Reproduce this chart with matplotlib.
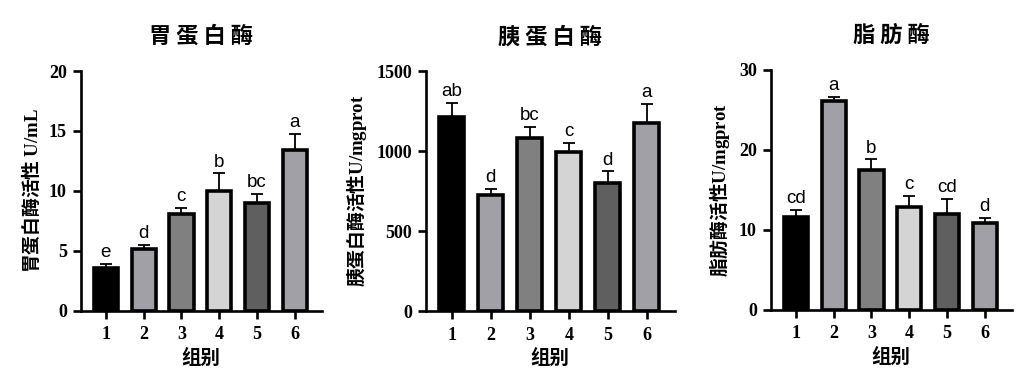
import matplotlib
matplotlib.use("Agg")
import matplotlib.pyplot as plt
import numpy as np

plt.rcParams["mathtext.fontset"] = "custom"
plt.rcParams["mathtext.bf"] = "Liberation Serif:bold"
plt.rcParams["mathtext.rm"] = "Liberation Serif"

groups = ["1", "2", "3", "4", "5", "6"]
bar_colors = ["#000000", "#a0a0a6", "#808080", "#d4d4d4", "#5f5f5f", "#a0a0a6"]

titles = ["胃 蛋 白 酶", "胰 蛋 白 酶", "脂 肪 酶"]
ylabels = [r"胃蛋白酶活性 $\mathbf{U/mL}$", r"胰蛋白酶活性$\mathbf{U/mgprot}$", r"脂肪酶活性$\mathbf{U/mgprot}$"]
xlabel = "组别"

pepsin_mean = [3.55, 5.15, 8.1, 9.95, 9.0, 13.4]
pepsin_err = [0.35, 0.3, 0.5, 1.5, 0.75, 1.35]
pepsin_sig = ["e", "d", "c", "b", "bc", "a"]

trypsin_mean = [1215, 722, 1083, 993, 800, 1174]
trypsin_err = [85, 42, 65, 57, 72, 118]
trypsin_sig = ["ab", "d", "bc", "c", "d", "a"]

lipase_mean = [11.6, 26.1, 17.45, 12.85, 12.0, 10.8]
lipase_err = [0.85, 0.55, 1.35, 1.4, 1.85, 0.65]
lipase_sig = ["cd", "a", "b", "c", "cd", "d"]

ylims = [20, 1500, 30]
yticks = [[0, 5, 10, 15, 20], [0, 500, 1000, 1500], [0, 10, 20, 30]]

fig = plt.figure(figsize=(10.29, 3.85), dpi=100)
W, H = 1029, 385
boxes = [(80.5, 71, 322, 310.5), (425.5, 71, 675, 311), (770.5, 70, 1012, 309.5)]

cjk = ["Noto Sans CJK SC", "DejaVu Sans"]

datasets = [(pepsin_mean, pepsin_err, pepsin_sig),
            (trypsin_mean, trypsin_err, trypsin_sig),
            (lipase_mean, lipase_err, lipase_sig)]

for i, (means, errs, sigs) in enumerate(datasets):
    l, t, r, b = boxes[i]
    ax = fig.add_axes([l / W, (H - b) / H, (r - l) / W, (b - t) / H])
    x = np.arange(1, len(groups) + 1)
    ax.bar(x, means, width=0.64, color=bar_colors, edgecolor="black", linewidth=2.6, zorder=3)
    ax.errorbar(x, means, yerr=[np.zeros(len(means)), errs], fmt="none", ecolor="black",
                elinewidth=1.3, capsize=4.5, capthick=1.3, zorder=2)
    ymax = ylims[i]
    for xi, m, e, s in zip(x, means, errs, sigs):
        ax.text(xi, m + e + ymax * 0.012, s, ha="center", va="bottom", fontsize=13.5,
                family="Liberation Sans")
    ax.set_xlim(0.33, 6.72)
    ax.set_ylim(0, ymax)
    ax.set_yticks(yticks[i])
    ax.set_xticks(x)
    ax.set_xticklabels(groups)
    for lab in ax.get_xticklabels() + ax.get_yticklabels():
        lab.set_family("Liberation Serif")
        lab.set_fontweight("bold")
        lab.set_fontsize(13)
    ax.spines["top"].set_visible(False)
    ax.spines["right"].set_visible(False)
    for sp in ["left", "bottom"]:
        ax.spines[sp].set_linewidth(1.9)
    ax.tick_params(axis="both", direction="out", length=5.8, width=1.9)
    ax.tick_params(axis="x", pad=5.5)
    ax.tick_params(axis="y", pad=4)
    ax.set_title(titles[i], fontsize=16, fontweight="bold", family=cjk, pad=20)
    ax.set_xlabel(xlabel, fontsize=14, family=cjk, weight="semibold", labelpad=4)
    ax.set_ylabel(ylabels[i], fontsize=13.5, family=cjk, weight="semibold", labelpad=5)

fig.savefig("out.png", dpi=100)
